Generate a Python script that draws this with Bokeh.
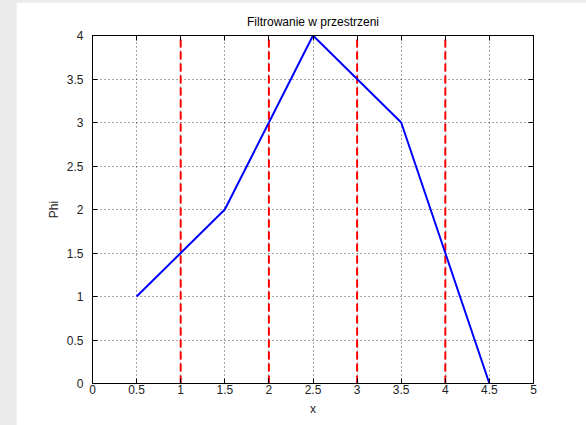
from bokeh.plotting import figure
from bokeh.models import LinearAxis, FixedTicker, Range1d, CustomJSTickFormatter, Column
from bokeh.embed import file_html
from bokeh.resources import INLINE

# data
x_vals = [0.5, 1, 1.5, 2, 2.5, 3, 3.5, 4, 4.5]
phi_vals = [1, 1.5, 2, 3, 4, 3.5, 3, 1.5, 0]
filter_x = [1, 2, 3, 4]
filter_y0 = [0, 0, 0, 0]
filter_y1 = [4, 4, 4, 4]
x_ticks = [0, 0.5, 1, 1.5, 2, 2.5, 3, 3.5, 4, 4.5, 5]
y_ticks = [0, 0.5, 1, 1.5, 2, 2.5, 3, 3.5, 4]

FONT = "Liberation Sans"

p = figure(width=570, height=423, output_backend="svg", toolbar_location=None,
           x_range=Range1d(0, 5), y_range=Range1d(0, 4),
           title="Filtrowanie w przestrzeni",
           x_axis_label="x", y_axis_label="Phi")
p.frame_width = 441
p.frame_height = 348
p.min_border_left = 76
p.min_border_top = 33
p.min_border_right = 53
p.min_border_bottom = 42
p.margin = (2, 0, 0, 16)

p.title.align = "center"
p.title.text_font = FONT
p.title.text_font_size = "12px"
p.title.text_font_style = "normal"
p.title.text_color = "#000000"
p.title.standoff = 14

p.outline_line_color = "#000000"
p.background_fill_color = "white"
p.border_fill_color = "white"

for ax in [p.xaxis[0], p.yaxis[0]]:
    ax.major_tick_in = 5
    ax.major_tick_out = 0
    ax.minor_tick_in = 0
    ax.minor_tick_out = 0
    ax.axis_line_color = "#000000"
    ax.major_tick_line_color = "#000000"
    ax.major_label_text_font = FONT
    ax.major_label_text_font_size = "12px"
    ax.major_label_text_color = "#222222"
    ax.axis_label_text_font = FONT
    ax.axis_label_text_font_size = "12px"
    ax.axis_label_text_font_style = "normal"
    ax.axis_label_text_color = "#222222"
p.xaxis[0].ticker = FixedTicker(ticks=x_ticks)
p.yaxis[0].ticker = FixedTicker(ticks=y_ticks)
p.xaxis[0].major_label_standoff = 1
p.yaxis[0].major_label_standoff = 9
p.xaxis[0].axis_label_standoff = 5
p.yaxis[0].axis_label_standoff = 3

blank = CustomJSTickFormatter(code="return ''")
top = LinearAxis(ticker=FixedTicker(ticks=x_ticks), formatter=blank,
                 major_tick_in=5, major_tick_out=0, minor_tick_in=0, minor_tick_out=0,
                 major_label_text_font_size="0px", major_label_standoff=0,
                 axis_line_color="#000000")
right = LinearAxis(ticker=FixedTicker(ticks=y_ticks), formatter=blank,
                   major_tick_in=5, major_tick_out=0, minor_tick_in=0, minor_tick_out=0,
                   major_label_text_font_size="0px", major_label_standoff=0,
                   axis_line_color="#000000")
p.add_layout(top, "above")
p.add_layout(right, "right")

p.xgrid.ticker = FixedTicker(ticks=x_ticks)
p.ygrid.ticker = FixedTicker(ticks=y_ticks)
for g in [p.xgrid[0], p.ygrid[0]]:
    g.grid_line_color = "#000000"
    g.grid_line_alpha = 0.7
    g.grid_line_dash = "1 3"
    g.grid_line_width = 1

p.segment(x0=filter_x, y0=filter_y0, x1=filter_x, y1=filter_y1,
          line_color="#ff0000", line_width=2, line_dash="8 4")
p.line(x_vals, phi_vals, line_color="#0000ff", line_width=2)

layout = Column(p, width=586, height=425, styles={"background-color": "#ebebeb"})

open("out.html", "w").write(file_html(layout, INLINE))
